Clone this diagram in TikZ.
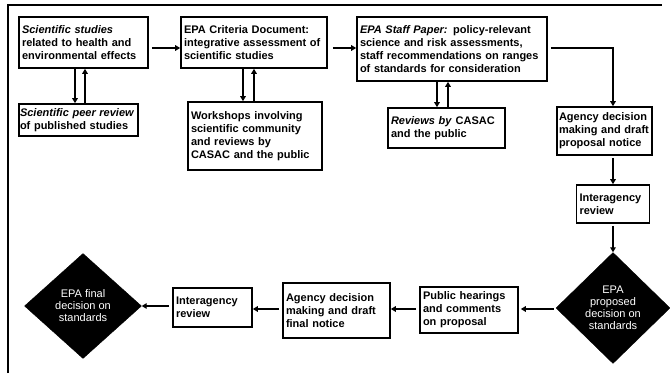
\documentclass[tikz,border=0pt]{standalone}
\usepackage{fontspec}
\setmainfont{Liberation Sans}
\usetikzlibrary{arrows.meta,shapes.geometric}
\begin{document}
\begin{tikzpicture}[x=1pt,y=-1pt,
  box/.style={draw,line width=1.6pt,rectangle,inner xsep=3pt,inner ysep=0pt,
    align=left,font=\fontsize{11}{13}\selectfont\bfseries},
  arr/.style={line width=2pt,-{Triangle[length=5pt,width=5.5pt]}},
  dia/.style={diamond,fill=black,draw=black,inner sep=0pt},
  diatext/.style={text=white,align=center,font=\fontsize{11}{12}\selectfont},
  frame/.style={line width=1.2pt}]
\useasboundingbox (0,0) rectangle (670,373);
\fill[white] (0,0) rectangle (670,373);
% frame
\coordinate (fa) at (8,373);
\coordinate (fb) at (8,5);
\coordinate (fc) at (662,5);
\draw[frame] (fa) -- (fb) -- (fc);
% top row
\node[box,minimum width=129pt,minimum height=51pt,text width=123pt] (b1) at (83.5,42.5)
  {\textit{Scientific studies}\\related to health and\\environmental effects};
\node[box,minimum width=146pt,minimum height=51pt,text width=140pt] (b2) at (254,42.5)
  {EPA Criteria Document:\\integrative assessment of\\scientific studies};
\node[box,minimum width=190pt,minimum height=64pt,text width=184pt] (b3) at (452,49)
  {\textit{EPA Staff Paper:} policy-relevant\\science and risk assessments,\\staff recommendations on ranges\\of standards for consideration};
% second row
\node[box,minimum width=119pt,minimum height=32pt,text width=117pt,inner xsep=1pt] (pr) at (78.5,120)
  {\mbox{\textit{Scientific peer review}}\\of published studies};
\node[box,minimum width=134pt,minimum height=68pt,text width=128pt] (ws) at (255,136)
  {Workshops involving\\scientific community\\and reviews by\\CASAC and the public};
\node[box,minimum width=117pt,minimum height=40pt,text width=111pt] (rv) at (446.5,128)
  {\textit{Reviews by} CASAC\\and the public};
\node[box,minimum width=95pt,minimum height=48pt,text width=91pt,inner xsep=2pt] (ag) at (604.5,131)
  {Agency decision\\making and draft\\proposal notice};
\node[box,minimum width=73pt,minimum height=38pt,text width=67pt] (ir) at (613,204)
  {Interagency\\review};
% diamonds
\node[dia,minimum width=114pt,minimum height=111pt] (d1) at (613,308) {};
\node[diatext] (d1t) at (d1.center) {EPA\\proposed\\decision on\\standards};
\node[dia,minimum width=117pt,minimum height=105pt] (d2) at (83,306) {};
\node[diatext] (d2t) at (d2.center) {EPA final\\decision on\\standards};
% bottom row
\node[box,minimum width=98pt,minimum height=46pt,text width=92pt] (ph) at (469,310)
  {Public hearings\\and comments\\on proposal};
\node[box,minimum width=107pt,minimum height=55pt,text width=101pt] (af) at (336.5,310.5)
  {Agency decision\\making and draft\\final notice};
\node[box,minimum width=79pt,minimum height=39pt,text width=73pt] (il) at (212.5,307.5)
  {Interagency\\review};
% connectors top row
\draw[arr] ([xshift=3pt,yshift=1pt]b3.east) -| (ag.north -| ir.north);
\draw[arr] ([xshift=3pt,yshift=-5.5pt]b1.east) -- ([yshift=-5.5pt]b1.east -| b2.west);
\draw[arr] ([xshift=5pt,yshift=-5.5pt]b2.east) -- ([yshift=-5.5pt]b2.east -| b3.west);
\draw[arr] ([yshift=-2pt]ag.south -| ir.north) -- (ir.north);
\draw[arr] ([yshift=-2pt]ir.south) -- (d1.north);
% double arrows
\draw[arr] ([xshift=-8.5pt]b1.south) -- ([xshift=-8.5pt]b1.south |- pr.north);
\draw[arr] ([xshift=1.5pt]b1.south |- pr.north) -- ([xshift=1.5pt]b1.south);
\draw[arr] ([xshift=-11pt]b2.south) -- ([xshift=-11pt]b2.south |- ws.north);
\draw[arr] (b2.south |- ws.north) -- (b2.south);
\draw[arr] ([xshift=-15pt]b3.south) -- ([xshift=-15pt]b3.south |- rv.north);
\draw[arr] ([xshift=-4pt]b3.south |- rv.north) -- ([xshift=-4pt]b3.south);
% bottom row connectors
\draw[arr] ([xshift=-2pt,yshift=-1pt]d1.west) -- ([xshift=2pt,yshift=-1pt]d1.west -| ph.east);
\draw[arr] ([xshift=-3pt,yshift=-1pt]ph.west |- d1.west) -- ([yshift=-1pt]af.east |- d1.west);
\draw[arr] ([xshift=-3pt,yshift=-1pt]af.west |- d1.west) -- ([yshift=-1pt]il.east |- d1.west);
\draw[arr] ([xshift=-3pt]il.west |- d2.east) -- (d2.east);
\end{tikzpicture}
\end{document}
